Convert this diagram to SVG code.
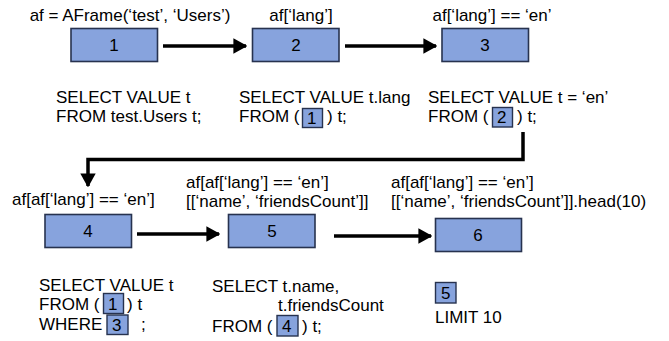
<svg xmlns="http://www.w3.org/2000/svg" width="669" height="341" viewBox="0 0 669 341">
<defs>
<style>
text{font-family:"Liberation Sans",Arial,sans-serif;font-size:17px;fill:#000}
.c{text-anchor:middle}
.box{fill:#87A3DD;stroke:#27324F;stroke-width:1.6}
.sb{fill:#87A3DD;stroke:#27324F;stroke-width:1.4}
.ln{fill:none;stroke:#000;stroke-width:3.5}
</style>
<marker id="ah" markerWidth="4" markerHeight="4.4" refX="3.6" refY="2.2" orient="auto" markerUnits="strokeWidth">
<path d="M0,0 L4,2.2 L0,4.4 Z" fill="#000"/>
</marker>
</defs>
<rect width="669" height="341" fill="#fff"/>
<g id="connectors">
<line class="ln" x1="163" y1="46" x2="246" y2="46" marker-end="url(#ah)"/>
<line class="ln" x1="345" y1="46" x2="436" y2="46" marker-end="url(#ah)"/>
<polyline class="ln" points="523,132 523,159.5 88,159.5 88,186" marker-end="url(#ah)"/>
<line class="ln" x1="137" y1="234" x2="219" y2="234" marker-end="url(#ah)"/>
<line class="ln" x1="334" y1="236" x2="431" y2="236" marker-end="url(#ah)"/>
</g>
<g id="n1">
<text class="c" x="130" y="21">af = AFrame(‘test’, ‘Users’)</text>
<rect class="box" x="71" y="28.5" width="86.5" height="33"/>
<text class="c" x="114" y="51">1</text>
<text x="56" y="103">SELECT VALUE t</text>
<text x="56" y="122">FROM test.Users t;</text>
</g>
<g id="n2">
<text class="c" x="301" y="21">af[‘lang’]</text>
<rect class="box" x="252.5" y="28.5" width="86.5" height="33"/>
<text class="c" x="296" y="51">2</text>
<text x="239" y="103">SELECT VALUE t.lang</text>
<text x="239" y="122">FROM (</text>
<text x="327" y="122">) t;</text>
</g>
<g id="n3">
<text class="c" x="492" y="21">af[‘lang’] == ‘en’</text>
<rect class="box" x="442" y="28.5" width="86.5" height="33"/>
<text class="c" x="485" y="51">3</text>
<text x="428" y="103">SELECT VALUE t = ‘en’</text>
<text x="428" y="122">FROM (</text>
<text x="517" y="122">) t;</text>
</g>
<g id="n4">
<text x="12" y="205">af[af[‘lang’] == ‘en’]</text>
<rect class="box" x="45" y="214.5" width="86.5" height="33"/>
<text class="c" x="88" y="237">4</text>
<text x="39" y="291">SELECT VALUE t</text>
<text x="39" y="310">FROM (</text>
<text x="127" y="310">) t</text>
<text x="39" y="330">WHERE</text>
<text x="141" y="330">;</text>
</g>
<g id="n5">
<text x="186" y="188">af[af[‘lang’] == ‘en’]</text>
<text x="186" y="207">[[‘name’, ‘friendsCount’]]</text>
<rect class="box" x="228.5" y="214.5" width="86.5" height="33"/>
<text class="c" x="272" y="237">5</text>
<text x="212" y="292">SELECT t.name,</text>
<text x="278" y="311">t.friendsCount</text>
<text x="212" y="332">FROM (</text>
<text x="302" y="332">) t;</text>
</g>
<g id="n6">
<text x="391" y="188">af[af[‘lang’] == ‘en’]</text>
<text x="391" y="207">[[‘name’, ‘friendsCount’]].head(10)</text>
<rect class="box" x="435.5" y="218.5" width="86" height="33"/>
<text class="c" x="478" y="241">6</text>
<text x="435" y="323">LIMIT 10</text>
</g>
<g id="refs">
<rect class="sb" x="302.5" y="108.5" width="20" height="19"/>
<rect class="sb" x="492.5" y="107.5" width="20" height="19.5"/>
<rect class="sb" x="103.5" y="293.5" width="20" height="20"/>
<rect class="sb" x="107" y="315" width="21" height="19.5"/>
<rect class="sb" x="277" y="315.5" width="21" height="20.5"/>
<rect class="sb" x="435.5" y="282.5" width="20.5" height="20.5"/>
</g>
<g id="reftext">
<text x="307" y="124">1</text>
<text x="497" y="123">2</text>
<text x="108" y="310">1</text>
<text x="112" y="331">3</text>
<text x="282" y="332">4</text>
<text x="441" y="299">5</text>
</g>
</svg>
